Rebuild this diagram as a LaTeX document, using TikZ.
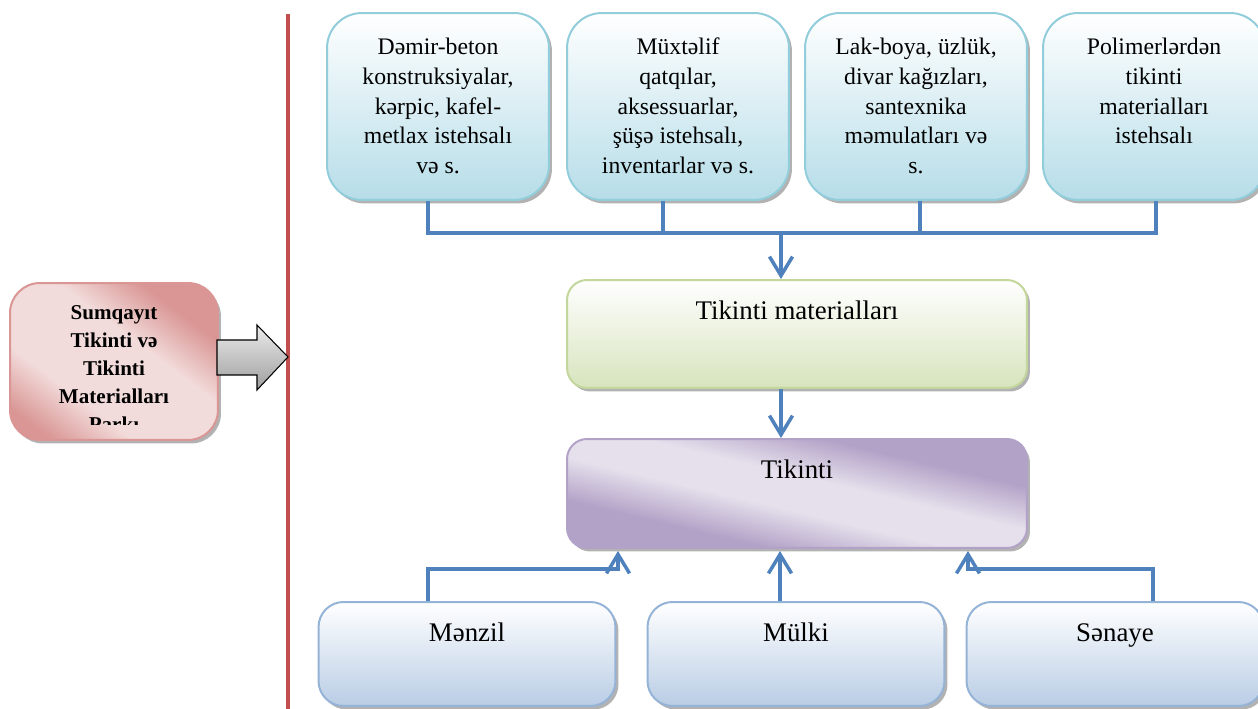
\documentclass[tikz,border=0pt]{standalone}
\usepackage{fontspec}
\setmainfont{Liberation Serif}
\usetikzlibrary{arrows.meta,shadows}
\definecolor{tbord}{HTML}{92CDDC}
\definecolor{tbot}{HTML}{B6DDE8}
\definecolor{gbord}{HTML}{C3D69B}
\definecolor{gbot}{HTML}{D7E4BD}
\definecolor{pdark}{HTML}{B3A2C7}
\definecolor{plight}{HTML}{E5E0EC}
\definecolor{bbord}{HTML}{95B3D7}
\definecolor{bbot}{HTML}{B9CDE5}
\definecolor{rdark}{HTML}{D99694}
\definecolor{rlight}{HTML}{F2DCDB}
\definecolor{conncol}{HTML}{4F81BD}
\definecolor{redline}{HTML}{C0504D}
\pgfdeclareverticalshading{pband}{100bp}{color(0bp)=(pdark); color(33bp)=(pdark); color(45bp)=(plight); color(55bp)=(plight); color(67bp)=(pdark); color(100bp)=(pdark)}
\pgfdeclareverticalshading{rband}{100bp}{color(0bp)=(rdark); color(22bp)=(rdark); color(36bp)=(rlight); color(58bp)=(rlight); color(72bp)=(rdark); color(100bp)=(rdark)}
\tikzset{
  boxbase/.style={draw, line width=0.04cm, inner sep=0pt,
    drop shadow={shadow xshift=0.06cm, shadow yshift=-0.07cm, opacity=0.3, fill=black}},
  topbox/.style={boxbase, draw=tbord, rounded corners=0.7cm, top color=white, bottom color=tbot,
    minimum width=4.44cm, minimum height=3.74cm},
  greenbox/.style={boxbase, draw=gbord, rounded corners=0.4cm, top color=white, bottom color=gbot,
    minimum width=9.2cm, minimum height=2.16cm},
  purplebox/.style={boxbase, draw=pdark, rounded corners=0.4cm, shading=pband, shading angle=-13.3,
    minimum width=9.2cm, minimum height=2.18cm},
  botbox/.style={boxbase, draw=bbord, rounded corners=0.5cm, top color=white, bottom color=bbot,
    minimum width=5.94cm, minimum height=2.08cm},
  redbox/.style={boxbase, draw=rdark, rounded corners=0.6cm, shading=rband, shading angle=-37,
    minimum width=4.16cm, minimum height=3.14cm},
  txt/.style={align=center, inner sep=0pt, anchor=north, font=\fontsize{13.5}{17}\selectfont},
  bigtxt/.style={txt, font=\fontsize{15.3}{18}\selectfont},
  rtxt/.style={txt, font=\bfseries\fontsize{12}{15.9}\selectfont},
  conn/.style={draw=conncol, line width=0.07cm},
  arr/.style={-{Straight Barb[length=0.38cm, width=0.46cm]}},
}
\begin{document}
\begin{tikzpicture}[x=0.02cm, y=-0.02cm]
\useasboundingbox (0,0) rectangle (1258,709);

% red vertical line
\draw[redline, line width=0.08cm] (288,14) -- (288,712);

% top boxes
\node[topbox] (b1) at (438,106.5) {};
\node[topbox] (b2) at (678,106.5) {};
\node[topbox] (b3) at (916,106.5) {};
\node[topbox] (b4) at (1154,106.5) {};
\node[txt] (t1) at ([yshift=-0.42cm]b1.north) {\strut Dəmir-beton\\konstruksiyalar,\\kərpic, kafel-\\metlax istehsalı\\və s.};
\node[txt] (t2) at ([yshift=-0.42cm]b2.north) {\strut Müxtəlif\\qatqılar,\\aksessuarlar,\\şüşə istehsalı,\\inventarlar və s.};
\node[txt] (t3) at ([yshift=-0.42cm]b3.north) {\strut Lak-boya, üzlük,\\divar kağızları,\\santexnika\\məmulatları və\\s.};
\node[txt] (t4) at ([yshift=-0.42cm]b4.north) {\strut Polimerlərdən\\tikinti\\materialları\\istehsalı};

% middle boxes
\node[greenbox] (tm) at (797,334) {};
\node[bigtxt] (ttm) at ([yshift=-0.36cm]tm.north) {\strut Tikinti materialları};
\node[purplebox] (tk) at (797,493.5) {};
\node[bigtxt] (ttk) at ([yshift=-0.36cm]tk.north) {\strut Tikinti};

% bottom boxes
\node[botbox] (mz) at (467,654) {};
\node[botbox] (ml) at (796,654) {};
\node[botbox] (sn) at (1115,654) {};
\node[bigtxt] (tmz) at ([yshift=-0.36cm]mz.north) {\strut Mənzil};
\node[bigtxt] (tml) at ([yshift=-0.36cm]ml.north) {\strut Mülki};
\node[bigtxt] (tsn) at ([yshift=-0.36cm]sn.north) {\strut Sənaye};

% left red box
\node[redbox] (rb) at (114,361.5) {};
\begin{scope}
  \clip (rb.north west) rectangle ([yshift=0.32cm]rb.south east);
  \node[rtxt] (trb) at ([yshift=-0.35cm]rb.north) {\strut Sumqayıt\\Tikinti və\\Tikinti\\Materialları\\Parkı};
\end{scope}

% block arrow
\draw[black, line width=0.6pt, top color=white!92!black, bottom color=white!62!black]
  (217,340) -- (257,340) -- (257,325) -- (288,357) -- (257,390) -- (257,375) -- (217,375) -- cycle;

% connectors top
\coordinate (j) at (781,233);
\draw[conn] ([xshift=-0.2cm]b1.south) |- (j) -| ([xshift=0.04cm]b4.south);
\draw[conn] ([xshift=-0.3cm]b2.south) -- ([xshift=-0.3cm]b2.south |- j);
\draw[conn] ([xshift=0.08cm]b3.south) -- ([xshift=0.08cm]b3.south |- j);
\draw[conn, arr] (j) -- (j |- tm.north);
\draw[conn, arr] (tm.south -| j) -- (tk.north -| j);

% connectors bottom
\coordinate (aL) at (618,569);
\coordinate (aR) at (968,569);
\draw[conn, arr] ([xshift=-0.78cm]mz.north) |- (aL) -- ([yshift=-0.04cm]aL |- tk.south);
\draw[conn, arr] ([xshift=-0.32cm]ml.north) -- ([xshift=-0.32cm, yshift=-0.04cm]ml.north |- tk.south);
\draw[conn, arr] ([xshift=0.76cm]sn.north) |- (aR) -- ([yshift=-0.04cm]aR |- tk.south);
\end{tikzpicture}
\end{document}
